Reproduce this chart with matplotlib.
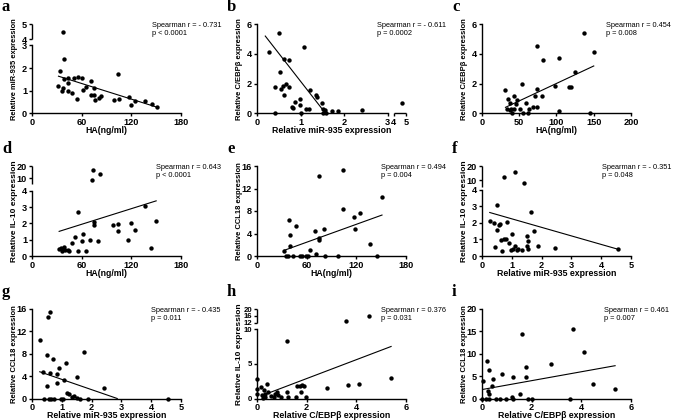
import matplotlib
matplotlib.use('Agg')
import matplotlib.pyplot as plt
import numpy as np

plt.rcParams['font.family'] = ['Liberation Sans', 'DejaVu Sans']

# ---- data ----
a_ha = [38, 39, 34, 32, 36, 39, 38, 44, 44, 44, 48, 51, 55, 54, 60, 62, 65, 71, 71, 75, 76, 75,
        81, 83, 99, 104, 105, 117, 119, 125, 137, 145, 151]
a_mir = [4.5, 2.42, 1.89, 1.21, 1.0, 1.5, 1.13, 1.55, 1.36, 1.0, 0.91, 1.55, 1.6, 0.65, 1.55, 1.03,
         1.18, 1.41, 0.83, 1.1, 0.6, 0.83, 0.68, 0.76, 0.6, 1.74, 0.64, 0.73, 0.38, 0.53, 0.53, 0.42, 0.27]
a_fit_x = [32, 151]
a_fit_y = [1.64, 0.27]

b_mir = [0.27, 0.5, 0.41, 0.42, 0.52, 0.56, 0.59, 0.62, 0.62, 0.67, 0.73, 0.73, 0.81, 0.83, 0.88, 0.98,
         0.98, 1.09, 1.13, 1.19, 1.21, 1.35, 1.38, 1.02, 1.5, 1.52, 1.55, 1.52, 1.58, 1.72, 1.87, 2.4, 4.65]
b_cebp = [4.1, 5.37, 1.75, 0, 2.77, 1.6, 1.83, 1.23, 3.67, 1.97, 3.58, 1.74, 0.45, 0.34, 0.78, 0.94,
          0.56, 4.47, 0.27, 0.27, 1.57, 1.21, 1.12, 0, 0.72, 0.27, 0.22, 0, 0, 0.18, 0.18, 0.22, 0.72]
b_fit_x = [0.19, 1.56]
b_fit_y = [5.19, 0.05]

c_ha = [31.5, 34, 35, 37, 38, 39, 40, 43, 43, 45, 47, 51, 54, 55, 59, 62, 63, 69, 71, 74, 74, 74,
        80, 82, 98, 104, 104, 117, 120, 125, 145, 137, 150]
c_cebp = [1.57, 0.27, 0.94, 0.22, 0.67, 0.27, 0.04, 0.27, 1.19, 0.63, 0.89, 0.27, 1.97, 0.04, 0.72, 0.04,
          0.27, 0.4, 1.16, 4.52, 0.4, 1.61, 1.19, 3.58, 1.83, 3.69, 0.18, 1.79, 1.79, 2.8, 0.02, 5.4, 4.1]
c_fit_x = [31.5, 150]
c_fit_y = [0.4, 3.18]

d_ha = [32.8, 34.8, 36, 37.2, 38.8, 40, 43, 44.8, 48, 52, 55, 55, 61, 62, 65, 70, 72, 74, 82, 75, 75,
        80, 98, 104, 104, 116, 119, 124, 136, 144, 150]
d_il10 = [0.41, 0.48, 0.33, 0.41, 0.54, 0.37, 0.37, 0.31, 0.79, 1.16, 0.33, 2.7, 0.89, 1.35, 0.29, 1.0,
          8.1, 16.7, 13.3, 2.07, 1.9, 0.95, 1.87, 1.95, 1.51, 1.0, 2.03, 1.58, 3.07, 0.48, 2.12]
d_fit_x = [32.8, 150]
d_fit_y = [1.51, 3.38]

e_ha = [32.7, 34.7, 37.5, 38.3, 39.5, 39.5, 43.6, 47.6, 51.6, 54.5, 59.7, 61.7, 64.6, 69.8, 71.8, 75,
        75, 75, 80.7, 81.9, 98, 103.3, 104, 117, 118, 124, 137, 145, 151]
e_ccl = [0.9, 0, 0, 6.39, 3.82, 1.79, 0, 5.37, 0, 0, 0, 0, 1.0, 4.48, 0.3, 14.3, 3.28, 2.8, 4.72, 0,
         0, 15.3, 8.3, 6.87, 4.72, 7.7, 2.09, 0, 10.45]
e_fit_x = [32.7, 151]
e_fit_y = [1.0, 7.28]

f_mir = [0.26, 0.39, 0.42, 0.51, 0.51, 0.56, 0.62, 0.64, 0.67, 0.75, 0.75, 0.82, 0.84, 0.9, 0.98, 1.01,
         1.03, 1.1, 1.12, 1.18, 1.2, 1.35, 1.4, 1.52, 1.52, 1.54, 1.55, 1.63, 1.74, 1.88, 2.44, 4.58]
f_il10 = [2.1, 2.0, 0.53, 3.08, 1.58, 1.88, 1.94, 0.99, 0.3, 1.03, 12.3, 1.05, 2.08, 0.79, 0.36, 1.33,
          0.4, 15.8, 0.59, 0.36, 0.44, 0.34, 7.9, 0.63, 1.19, 0.93, 0.44, 2.67, 1.54, 0.59, 0.5, 0.4]
f_fit_x = [0.26, 4.58]
f_fit_y = [2.63, 0.4]

g_mir = [0.26, 0.38, 0.39, 0.49, 0.5, 0.54, 0.56, 0.61, 0.61, 0.65, 0.71, 0.74, 0.83, 0.84, 0.89, 0.98,
         1.03, 1.09, 1.13, 1.18, 1.23, 1.35, 1.41, 1.51, 1.51, 1.6, 1.73, 1.88, 2.43, 4.55]
g_ccl = [10.5, 4.66, 0, 2.15, 7.76, 14.57, 0, 15.5, 4.6, 0, 7.1, 0, 4.42, 2.75, 5.4, 0, 0, 3.28, 6.39,
         0.9, 0.78, 0.24, 0.36, 3.82, 0.12, 0, 8.3, 0, 1.85, 0]
g_fit_x = [0.26, 2.86]
g_fit_y = [4.78, 0]

h_cebp = [0, 0, 0, 0.17, 0.2, 0.24, 0.28, 0.31, 0.34, 0.4, 0.44, 0.58, 0.69, 0.74, 0.81, 0.85, 0.98,
          1.21, 1.22, 1.25, 1.56, 1.63, 1.75, 1.79, 1.82, 1.9, 1.99, 2.8, 3.6, 3.67, 4.12, 4.5, 5.4]
h_il10 = [2.75, 1.3, 0.72, 1.6, 0.48, 0.14, 1.2, 0.72, 0.24, 2.03, 0.97, 0.34, 0.24, 0.72, 0.97, 0.48,
          0.24, 8.3, 0.97, 0.24, 0.24, 1.79, 1.79, 0.87, 1.93, 1.79, 0.24, 1.55, 13, 1.93, 2.08, 16, 3.0]
h_fit_x = [0.24, 5.4]
h_fit_y = [0.48, 7.5]

i_cebp = [0.05, 0, 0.16, 0.2, 0.23, 0.27, 0.27, 0.29, 0.4, 0.45, 0.56, 0.72, 0.8, 0.96, 1.19, 1.25,
          1.25, 1.52, 1.63, 1.76, 1.79, 1.87, 2.0, 2.79, 3.56, 3.65, 4.09, 4.47, 5.36]
i_ccl = [3.85, 0, 0, 8.3, 1.78, 6.44, 0, 0.9, 2.74, 4.44, 0, 0, 5.4, 0, 0.3, 4.74, 0, 0.9, 14.5, 6.96,
         4.74, 0, 0, 7.78, 0, 15.5, 10.5, 3.26, 2.07]
i_fit_x = [0.0, 5.36]
i_fit_y = [2.0, 7.33]

letters = ['a', 'b', 'c', 'd', 'e', 'f', 'g', 'h', 'i']
stats = ['Spearman r = - 0.731\np < 0.0001', 'Spearman r = - 0.611\np = 0.0002',
         'Spearman r = 0.454\np = 0.008', 'Spearman r = 0.643\np < 0.0001',
         'Spearman r = 0.494\np = 0.004', 'Spearman r = - 0.351\np = 0.048',
         'Spearman r = - 0.435\np = 0.011', 'Spearman r = 0.376\np = 0.031',
         'Spearman r = 0.461\np = 0.007']
xlabels = ['HA(ng/ml)', 'Relative miR-935 expression', 'HA(ng/ml)',
           'HA(ng/ml)', 'HA(ng/ml)', 'Relative miR-935 expression',
           'Relative miR-935 expression', 'Relative C/EBPβ expression', 'Relative C/EBPβ expression']
ylabels = ['Relative miR-935 expression', 'Relative C/EBPβ expression', 'Relative C/EBPβ expression',
           'Relative IL-10 expression', 'Relative CCL18 expression', 'Relative IL-10 expression',
           'Relative CCL18 expression', 'Relative IL-10 expression', 'Relative CCL18 expression']
xticks = [[0, 60, 120, 180], [0, 1, 2, 3, 4, 5], [0, 50, 100, 150, 200],
          [0, 60, 120, 180], [0, 60, 120, 180], [0, 1, 2, 3, 4, 5],
          [0, 1, 2, 3, 4, 5], [0, 2, 4, 6], [0, 2, 4, 6]]
yticks = [[0, 1, 2, 3, 4, 5], [0, 2, 4, 6], [0, 2, 4, 6],
          [0, 1, 2, 3, 4, 10, 20], [0, 4, 8, 12, 16], [0, 1, 2, 3, 4, 10, 20],
          [0, 4, 8, 12, 16], [0, 5, 10, 12, 16, 20], [0, 5, 10, 15, 20]]

xs = [a_ha, b_mir, c_ha, d_ha, e_ha, f_mir, g_mir, h_cebp, i_cebp]
ys = [a_mir, b_cebp, c_cebp, d_il10, e_ccl, f_il10, g_ccl, h_il10, i_ccl]
fit_xs = [a_fit_x, b_fit_x, c_fit_x, d_fit_x, e_fit_x, f_fit_x, g_fit_x, h_fit_x, i_fit_x]
fit_ys = [a_fit_y, b_fit_y, c_fit_y, d_fit_y, e_fit_y, f_fit_y, g_fit_y, h_fit_y, i_fit_y]

# broken axes: (data breakpoints, axis fraction breakpoints)
xbreaks = {1: ([0, 3, 4, 5], [0, 0.877, 0.917, 1.0])}
ybreaks = {0: ([0, 3, 4, 5], [0, 0.76, 0.83, 1.0]),
           3: ([0, 4, 5, 20], [0, 0.725, 0.797, 1.0]),
           5: ([0, 4, 5, 20], [0, 0.735, 0.766, 1.0]),
           7: ([0, 10, 12, 20], [0, 0.775, 0.849, 1.0])}

stat_x = [0.805, 0.805, 0.83, 0.834, 0.83, 0.806, 0.80, 0.83, 0.82]
ylab_size = [5.4, 5.5, 5.5, 6.0, 5.5, 6.0, 5.5, 6.0, 5.5]


def piecewise(dp, fp):
    dp = np.asarray(dp, float)
    fp = np.asarray(fp, float)

    def conv(v, a, b):
        v = np.asarray(v, float)
        out = np.interp(v, a, b)
        lo = (b[1] - b[0]) / (a[1] - a[0])
        hi = (b[-1] - b[-2]) / (a[-1] - a[-2])
        out = np.where(v < a[0], b[0] + (v - a[0]) * lo, out)
        out = np.where(v > a[-1], b[-1] + (v - a[-1]) * hi, out)
        return out
    return (lambda v: conv(v, dp, fp)), (lambda v: conv(v, fp, dp))


W, H = 677, 420
fig = plt.figure(figsize=(W / 100, H / 100), dpi=100)

lefts = [32, 257, 482]
tops = [24, 166, 309]
bottoms = [113.3, 256, 398.5]
width = 149

for k in range(9):
    r, c = divmod(k, 3)
    l = lefts[c]
    ax = fig.add_axes([l / W, (H - bottoms[r]) / H, width / W, (bottoms[r] - tops[r]) / H])

    if k in xbreaks:
        ax.set_xscale('function', functions=piecewise(*xbreaks[k]))
    if k in ybreaks:
        ax.set_yscale('function', functions=piecewise(*ybreaks[k]))

    ax.scatter(xs[k], ys[k], s=10, color='black', zorder=3, clip_on=False, linewidths=0)
    ax.plot(fit_xs[k], fit_ys[k], color='black', lw=0.8)

    ax.set_xlim(xticks[k][0], xticks[k][-1])
    ax.set_ylim(yticks[k][0], yticks[k][-1])
    ax.set_xticks(xticks[k])
    ax.set_yticks(yticks[k])

    for s in ['top', 'right']:
        ax.spines[s].set_visible(False)
    for s in ['left', 'bottom']:
        ax.spines[s].set_linewidth(1.0)
    ax.tick_params(direction='out', length=2.5, width=1.0, pad=1.0, labelsize=6.6)
    if k == 7:
        ax.tick_params(axis='y', labelsize=5.6)
    for t in ax.get_xticklabels() + ax.get_yticklabels():
        t.set_fontweight('bold')

    # split spines for the broken axes
    if k in ybreaks:
        dp = ybreaks[k][0]
        ax.spines['left'].set_bounds(dp[0], dp[1])
        ax.plot([0, 0], [dp[2], dp[3]], color='black', lw=1.0, solid_capstyle='butt',
                transform=ax.get_yaxis_transform(), clip_on=False)
    if k in xbreaks:
        dp = xbreaks[k][0]
        ax.spines['bottom'].set_bounds(dp[0], dp[1])
        ax.plot([dp[2], dp[3]], [0, 0], color='black', lw=1.0, solid_capstyle='butt',
                transform=ax.get_xaxis_transform(), clip_on=False)

    ax.set_xlabel(xlabels[k], fontsize=6.3, fontweight='bold', va='center')
    ax.xaxis.set_label_coords(0.5, -0.19)
    ax.set_ylabel(ylabels[k], fontsize=ylab_size[k], fontweight='bold', va='center')
    ax.yaxis.set_label_coords(-0.115, 0.5)

    ax.text(stat_x[k], 1.025, stats[k], transform=ax.transAxes, ha='left', va='top',
            fontsize=5.3, linespacing=1.15)

    fig.text((l - 30) / W, 1 - (tops[r] - 13) / H, letters[k], family='Liberation Serif',
             fontweight='bold', fontsize=12, ha='left', va='baseline')

fig.savefig('out.png', dpi=100)
